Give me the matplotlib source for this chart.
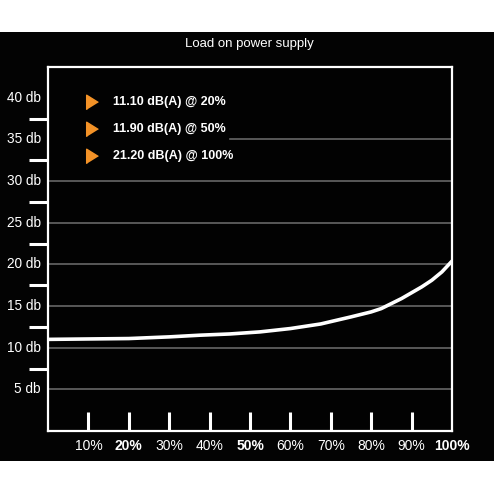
import matplotlib
matplotlib.use('Agg')
from matplotlib import pyplot as plt
from matplotlib.patches import Rectangle
import matplotlib.transforms as mtrans
import numpy as np

plt.rcParams['font.family'] = ['Liberation Sans', 'DejaVu Sans']

# datos
carga = [0, 10, 20, 30, 37.5, 45, 52.5, 60, 67.5, 75, 77.5, 80, 82.5, 85, 87.5, 90, 92.5, 95, 97.5, 100]
ruido = [11.0, 11.05, 11.1, 11.3, 11.5, 11.65, 11.9, 12.3, 12.85, 13.7, 14.0, 14.3, 14.7, 15.3,
         15.9, 16.6, 17.3, 18.1, 19.1, 20.4]
xticks = [10, 20, 30, 40, 50, 60, 70, 80, 90, 100]
xlabels = ['10%', '20%', '30%', '40%', '50%', '60%', '70%', '80%', '90%', '100%']
negritas = ['20%', '50%', '100%']
yticks = [5, 10, 15, 20, 25, 30, 35, 40]
ylabels = ['5 db', '10 db', '15 db', '20 db', '25 db', '30 db', '35 db', '40 db']
marcas_y = [7.5, 12.5, 17.5, 22.5, 27.5, 32.5, 37.5]
leyenda = ['11.10 dB(A) @ 20%', '11.90 dB(A) @ 50%', '21.20 dB(A) @ 100%']
leyenda_y = [39.5, 36.2, 33.0]

W, H = 494, 494
fig = plt.figure(figsize=(W/100, H/100), dpi=100, facecolor='white')
# franja negra de fondo
fig.patches.append(Rectangle((0, 1-461/H), 1, (461-32)/H, transform=fig.transFigure,
                             facecolor='#030303', edgecolor='none', zorder=-10))

ax = fig.add_axes([48/W, 1-431/H, (452-48)/W, (431-67)/H])
ax.set_zorder(1)
ax.set_facecolor('#020202')
ax.set_xlim(0, 100)
ax.set_ylim(0, 43.7)

for s in ax.spines.values():
    s.set_color('white')
    s.set_linewidth(1.6)

# grilla
for v in yticks[:-1]:
    if v == 35:
        ax.plot([45, 100], [v, v], color='#666666', lw=1.2, zorder=1)
    else:
        ax.axhline(v, color='#666666', lw=1.2, zorder=1)

# marcas internas abajo
ax.vlines(xticks[:-1], 0, 2.3, color='white', lw=2.2, zorder=2)

# marcas blancas a la izquierda
bt = mtrans.blended_transform_factory(ax.transAxes, ax.transData)
for v in marcas_y:
    ax.plot([-19/404, 0], [v, v], color='white', lw=2.2, transform=bt, clip_on=False,
            solid_capstyle='butt')

ax.plot(carga, ruido, color='white', lw=2.6, zorder=3, solid_capstyle='round',
        solid_joinstyle='round')

ax.set_xticks([])
ax.set_yticks([])
for v, t in zip(yticks, ylabels):
    ax.text(-7/404, v, t, transform=bt, ha='right', va='center', color='white', fontsize=9.8)

for v, t in zip(xticks, xlabels):
    peso = 'bold' if t in negritas else 'normal'
    ax.text(v, -1.8, t, ha='center', va='center', color='white', fontsize=10, fontweight=peso,
            clip_on=False)

fig.text(249/W, 1-44/H, 'Load on power supply', ha='center', va='center', color='white', fontsize=9.5)

tri = [(-0.8, -1), (-0.8, 1), (0.8, 0)]
for v, t in zip(leyenda_y, leyenda):
    ax.plot([(92-48)/404], [v], marker=tri, markersize=10.5, color='#f39227', transform=bt,
            clip_on=False, linestyle='none')
    ax.text((113-48)/404, v, t, transform=bt, ha='left', va='center', color='white',
            fontsize=9, fontweight='bold')

plt.savefig('out.png', dpi=100, facecolor='white')
